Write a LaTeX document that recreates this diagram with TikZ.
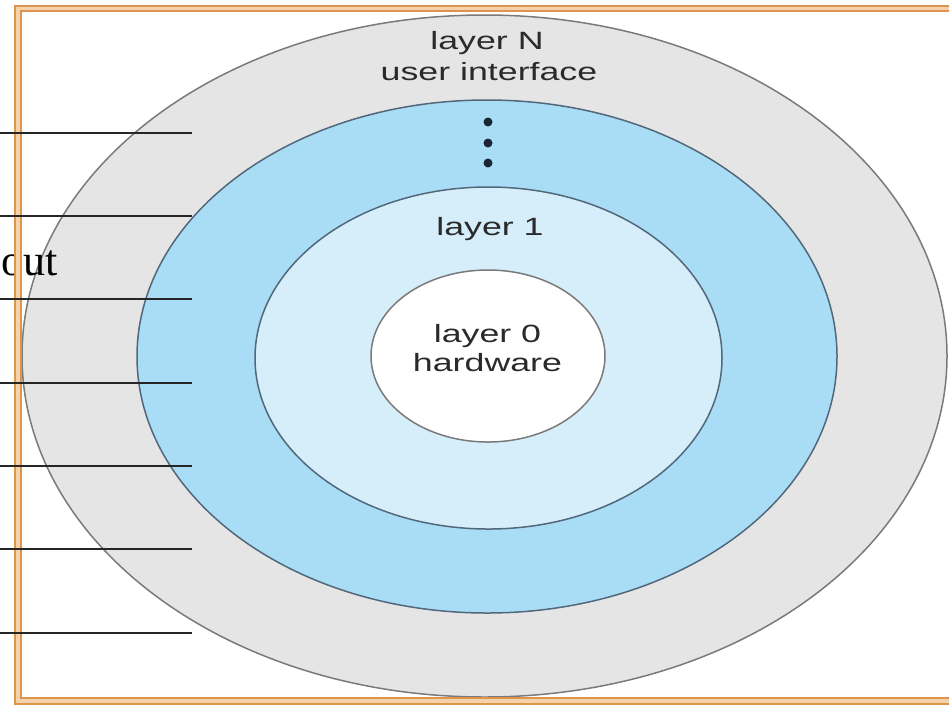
\documentclass[tikz,border=0pt]{standalone}
\usepackage{fontspec}
\setmainfont{Liberation Sans}
\newfontfamily\labfont[FakeStretch=1.43]{Liberation Sans}
\newfontfamily\outfont{Liberation Serif}
\usetikzlibrary{shapes.geometric}

\definecolor{ringgray}{HTML}{E5E5E5}
\definecolor{ringblue}{HTML}{A9DDF6}
\definecolor{ringlight}{HTML}{D6EEFA}
\definecolor{edgegray}{HTML}{7A7A7A}
\definecolor{edgeblue}{HTML}{52687A}
\definecolor{txt}{HTML}{2A2A2A}
\definecolor{frameor}{HTML}{DD944C}
\definecolor{framelt}{HTML}{F4D2AA}
\definecolor{dotcol}{HTML}{1A2635}

\begin{document}
\begin{tikzpicture}[x=1pt,y=-1pt,
  ring/.style={ellipse, inner sep=0pt, line width=1.5pt},
  lab/.style={font=\labfont\fontsize{25}{29}\selectfont, text=txt, anchor=base, inner sep=0pt},
  tickline/.style={line width=2.2pt, draw=black!85},
  framepath/.style={draw=frameor, line width=2.2pt, double=framelt, double distance=3.5pt},
  dotmark/.style={circle, fill=dotcol, inner sep=0pt, minimum size=9pt}
]
\useasboundingbox (0,0) rectangle (949,705);
\fill[white] (0,0) rectangle (949,705);

% rings
\node[ring, draw=edgegray, fill=ringgray, minimum width=925pt, minimum height=682pt] (ringN) at (484.5,356) {};
\node[ring, draw=edgeblue, fill=ringblue, minimum width=700pt, minimum height=513pt] (ringmid) at (487,356.5) {};
\node[ring, draw=edgeblue, fill=ringlight, minimum width=467pt, minimum height=342pt] (ring1) at (488.5,358) {};
\node[ring, draw=edgegray, fill=white, minimum width=234pt, minimum height=172pt] (ring0) at (488,356) {};

% labels
\node[lab] (labN) at (487,49) {layer N};
\node[lab] (labUI) at (489,80) {user interface};
\node[dotmark] (d1) at (488,122) {};
\node[dotmark] (d2) at (488,143) {};
\node[dotmark] (d3) at (488,163) {};
\node[lab] (lab1) at (490,235) {layer 1};
\node[lab] (lab0) at (487.5,342) {layer 0};
\node[lab] (labhw) at (487.5,371) {hardware};

% text at left
\node[font=\outfont\fontsize{44}{50}\selectfont, text=black, anchor=base west, inner sep=0pt] (outtext) at (1,275) {out};

% frame
\draw[framepath] (1000,8.5) -- (18,8.5) -- (18,701) -- (1000,701);

% left lines
\foreach \i/\yy in {1/133, 2/216, 3/299, 4/383, 5/466, 6/549, 7/633} {
  \coordinate (ls\i) at (0,\yy);
  \coordinate (le\i) at (192,\yy);
  \draw[tickline] (ls\i) -- (le\i);
}
\end{tikzpicture}
\end{document}
